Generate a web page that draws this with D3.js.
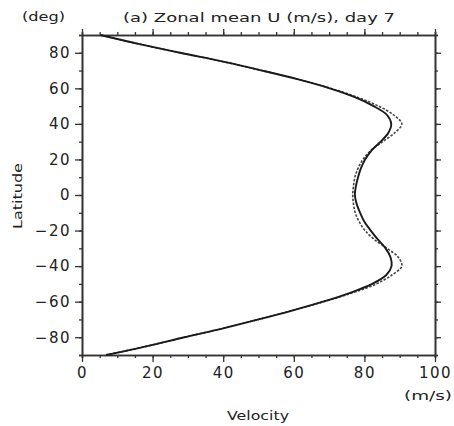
<!DOCTYPE html>
<html><head><meta charset="utf-8">
<script src="https://cdn.jsdelivr.net/npm/d3@7"></script>
<style>body{margin:0;background:#fff}svg{display:block}text{font-family:"DejaVu Sans",sans-serif;fill:#222}</style>
</head><body><svg id="c" width="454" height="426"></svg>
<script>
const latitudes = [90,85,80,75,70,65,60,55,50,45,40,35,30,25,20,15,10,5,0,-5,-10,-15,-20,-25,-30,-35,-40,-45,-50,-55,-60,-65,-70,-75,-80,-85,-90];
const solidU = [5.2,16,27.8,40,51,61.3,70.2,77.3,82.6,86.4,87.6,86.8,84.6,82,80.2,79,78.2,77.6,77.3,77.8,78.8,80,81.8,83.8,86,87.4,87.7,86.2,82.2,76,68.3,59.5,50,40,29,18.5,6.8];
const dashedU = [5.2,16,27.8,40,51,61.3,70.4,78,84,88.3,90.6,88.6,85.2,81.8,79.6,78.2,77.3,76.9,76.7,76.9,77.4,78.5,80.2,82.8,86.4,89.6,90.6,87.8,83.4,76.7,68.5,59.5,50,40,29,18.5,6.8];
const xTicks = [0,20,40,60,80,100];
const yTicks = [-80,-60,-40,-20,0,20,40,60,80];
const xMinor = d3.range(0,101,5);
const yMinor = d3.range(-90,91,10);
const title = "(a) Zonal mean U (m/s), day 7";

const svg = d3.select("#c");
const L=82,R=435,T=35,B=355;
const x = d3.scaleLinear().domain([0,100]).range([L,R]);
const y = d3.scaleLinear().domain([-90,90]).range([B,T]);
const fmt = d => d<0 ? "\u2212"+Math.abs(d) : d;

function styleAxis(g){g.selectAll("path").attr("stroke","#333").attr("stroke-width",1.6);
  g.selectAll("line").attr("stroke","#333").attr("stroke-width",1.3);
  g.selectAll("text").attr("font-size",15).attr("letter-spacing",1.5).attr("fill","#222");}

// minor ticks
svg.append("g").attr("transform",`translate(0,${B})`).call(d3.axisBottom(x).tickValues(xMinor).tickSize(3).tickFormat("")).call(styleAxis);
svg.append("g").attr("transform",`translate(0,${T})`).call(d3.axisTop(x).tickValues(xMinor).tickSize(3).tickFormat("")).call(styleAxis);
svg.append("g").attr("transform",`translate(${L},0)`).call(d3.axisLeft(y).tickValues(yMinor).tickSize(3).tickFormat("")).call(styleAxis);
svg.append("g").attr("transform",`translate(${R},0)`).call(d3.axisRight(y).tickValues(yMinor).tickSize(3).tickFormat("")).call(styleAxis);
// major
svg.append("g").attr("transform",`translate(0,${B})`).call(d3.axisBottom(x).tickValues(xTicks).tickSize(7).tickPadding(5).tickSizeOuter(0)).call(styleAxis);
svg.append("g").attr("transform",`translate(0,${T})`).call(d3.axisTop(x).tickValues(xTicks).tickSize(6).tickFormat("").tickSizeOuter(0)).call(styleAxis);
svg.append("g").attr("transform",`translate(${L},0)`).call(d3.axisLeft(y).tickValues(yTicks).tickSize(7).tickPadding(4).tickFormat(fmt).tickSizeOuter(0)).call(styleAxis);
svg.append("g").attr("transform",`translate(${R},0)`).call(d3.axisRight(y).tickValues(yTicks).tickSize(6).tickFormat("").tickSizeOuter(0)).call(styleAxis);

const line = d3.line().x(d=>x(d[1])).y(d=>y(d[0])).curve(d3.curveCatmullRom.alpha(0.5));
svg.append("path").datum(latitudes.map((l,i)=>[l,dashedU[i]])).attr("d",line)
  .attr("fill","none").attr("stroke","#444").attr("stroke-width",1.6).attr("stroke-dasharray","2.5,1.5");
svg.append("path").datum(latitudes.map((l,i)=>[l,solidU[i]])).attr("d",line)
  .attr("fill","none").attr("stroke","#1a1a1a").attr("stroke-width",1.9);

svg.append("text").attr("x",259).attr("y",22).attr("text-anchor","middle").attr("font-size",13)
  .attr("textLength",272).attr("lengthAdjust","spacingAndGlyphs").text(title);
svg.append("text").attr("x",22).attr("y",21).attr("font-size",13).attr("textLength",43).attr("lengthAdjust","spacingAndGlyphs").text("(deg)");
svg.append("text").attr("transform","translate(22,196) rotate(-90)").attr("text-anchor","middle").attr("font-size",13).attr("textLength",66).attr("lengthAdjust","spacingAndGlyphs").text("Latitude");
svg.append("text").attr("x",258).attr("y",420).attr("text-anchor","middle").attr("font-size",13).attr("textLength",62).attr("lengthAdjust","spacingAndGlyphs").text("Velocity");
svg.append("text").attr("x",452).attr("y",400).attr("text-anchor","end").attr("font-size",13).attr("textLength",48).attr("lengthAdjust","spacingAndGlyphs").text("(m/s)");
</script></body></html>
